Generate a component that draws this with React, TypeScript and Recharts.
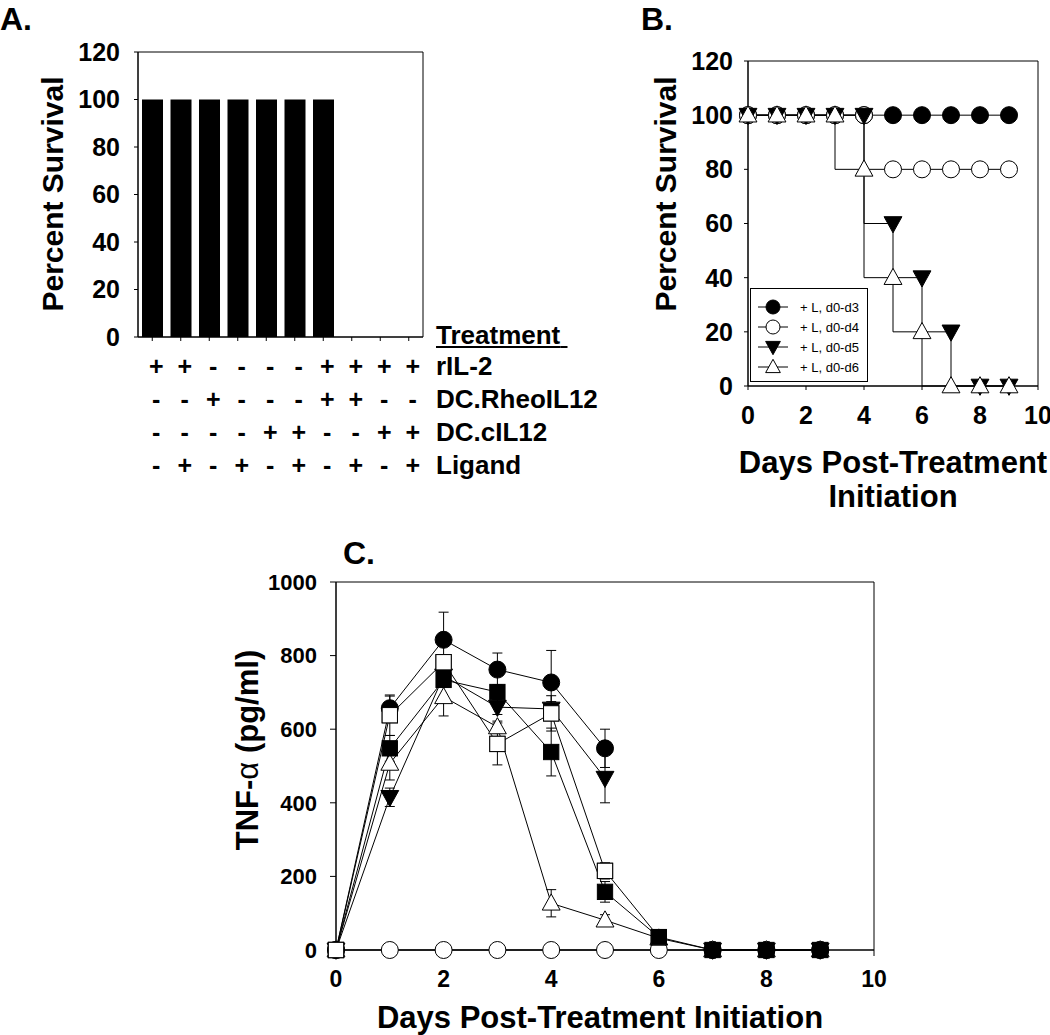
import { Bar, BarChart, ErrorBar, Legend, Line, LineChart, ReferenceArea, XAxis, YAxis } from "recharts"

const FONT = '"Liberation Sans", Arial, Helvetica, sans-serif'

// ---- panel A: survival per treatment group
const groupIds = ["g1", "g2", "g3", "g4", "g5", "g6", "g7", "g8", "g9", "g10"]
const survivalA = [100, 100, 100, 100, 100, 100, 100, 0, 0, 0]
const percentTicks = [0, 20, 40, 60, 80, 100, 120]
const treatmentNames = ["rIL-2", "DC.RheoIL12", "DC.cIL12", "Ligand"]
const rIL2 = ["+", "+", "-", "-", "-", "-", "+", "+", "+", "+"]
const rheoIL12 = ["-", "-", "+", "-", "-", "-", "+", "+", "-", "-"]
const cIL12 = ["-", "-", "-", "-", "+", "+", "-", "-", "+", "+"]
const ligand = ["-", "+", "-", "+", "-", "+", "-", "+", "-", "+"]

// ---- panel B: survival over time
const survivalDays = [0, 1, 2, 3, 4, 5, 6, 7, 8, 9]
const dayTicks = [0, 2, 4, 6, 8, 10]
const legendNames = ["+ L, d0-d3", "+ L, d0-d4", "+ L, d0-d5", "+ L, d0-d6"]
const survD0D3 = [100, 100, 100, 100, 100, 100, 100, 100, 100, 100]
const survD0D4 = [100, 100, 100, 100, 100, 80, 80, 80, 80, 80]
const survD0D5 = [100, 100, 100, 100, 100, 60, 40, 20, 0, 0]
const survD0D6 = [100, 100, 100, 100, 80, 40, 20, 0, 0, 0]

// ---- panel C: TNF-alpha (pg/ml)
const tnfDays = [0, 1, 2, 3, 4, 5, 6, 7, 8, 9]
const tnfTicks = [0, 200, 400, 600, 800, 1000]
const fCircle = [0, 657, 843, 762, 727, 548, null, 0, 0, 0]
const fCircleErr = [0, 33, 75, 45, 87, 52, 0, 0, 0, 0]
const oCircle = [0, 0, 0, 0, 0, 0, 0, 0, 0, 0]
const fTriangle = [0, 415, 745, 660, 655, 467, null, 0, 0, 0]
const fTriangleErr = [0, 25, 20, 20, 20, 67, 0, 0, 0, 0]
const oTriangle = [0, 507, 688, 606, 127, 81, 32, 0, 0, 0]
const oTriangleErr = [0, 45, 52, 16, 37, 15, 8, 0, 0, 0]
const fSquare = [0, 548, 734, 701, 538, 158, 35, 0, 0, 0]
const fSquareErr = [0, 35, 20, 20, 65, 28, 8, 0, 0, 0]
const oSquare = [0, 638, 782, 560, 643, 215, 35, null, null, null]
const oSquareErr = [0, 55, 15, 57, 48, 22, 0, 0, 0, 0]

const treatmentTable = [rIL2, rheoIL12, cIL12, ligand]
const barData = groupIds.map((g, i) => ({ group: g, survival: survivalA[i] }))
const survSeries = [survD0D3, survD0D4, survD0D5, survD0D6].map((vals) =>
  survivalDays.map((d, i) => ({ day: d, pct: vals[i] }))
)
const tnfData = tnfDays.map((d, i) => ({
  day: d,
  fc: fCircle[i], fcErr: fCircleErr[i],
  oc: oCircle[i],
  ft: fTriangle[i], ftErr: fTriangleErr[i],
  ot: oTriangle[i], otErr: oTriangleErr[i],
  fs: fSquare[i], fsErr: fSquareErr[i],
  os: oSquare[i], osErr: oSquareErr[i],
}))

type Kind = "circle" | "openCircle" | "triDown" | "openTriUp" | "square" | "openSquare"

function marker(kind: Kind, cx: number, cy: number, s: number) {
  const fill = kind === "openCircle" || kind === "openTriUp" || kind === "openSquare" ? "#fff" : "#000"
  if (kind === "circle" || kind === "openCircle") {
    return <circle cx={cx} cy={cy} r={s} fill={fill} stroke="#000" strokeWidth={1} />
  }
  if (kind === "square" || kind === "openSquare") {
    const h = s * 0.9
    return <rect x={cx - h} y={cy - h} width={2 * h} height={2 * h} fill={fill} stroke="#000" strokeWidth={1} />
  }
  if (kind === "triDown") {
    const d = `M${cx - s * 1.05},${cy - s * 0.8} L${cx + s * 1.05},${cy - s * 0.8} L${cx},${cy + s * 1.1} Z`
    return <path d={d} fill={fill} stroke="#000" strokeWidth={1} />
  }
  const d = `M${cx - s * 1.05},${cy + s * 0.8} L${cx + s * 1.05},${cy + s * 0.8} L${cx},${cy - s * 1.1} Z`
  return <path d={d} fill={fill} stroke="#000" strokeWidth={1} />
}

const dotFor = (kind: Kind, s: number) => (p: any) => {
  const key = `${kind}-${p.index}`
  if (p.cx == null || p.cy == null || p.value == null || isNaN(p.cy)) return <g key={key} />
  return <g key={key}>{marker(kind, p.cx, p.cy, s)}</g>
}

const bold = (size: number) => ({ fontSize: size, fontWeight: "bold", fill: "#000", fontFamily: FONT })

function TreatmentTick(props: any) {
  const { x, y } = props
  const i = props.payload?.index ?? props.index
  return (
    <g>
      {treatmentTable.map((row, k) => (
        <text
          key={k}
          x={x + 4}
          y={y + 25 + k * 33}
          textAnchor="middle"
          dominantBaseline="central"
          fontSize={25}
          fontWeight="bold"
          fontFamily={FONT}
          fill="#000"
        >
          {row[i]}
        </text>
      ))}
    </g>
  )
}

const legendKinds: Kind[] = ["circle", "openCircle", "triDown", "openTriUp"]

function SurvivalLegend(props: any) {
  const items = props.payload || []
  return (
    <div
      style={{
        width: 116,
        height: 84,
        border: "1px solid #000",
        background: "#fff",
        paddingTop: 8,
        boxSizing: "content-box",
      }}
    >
      {items.map((entry: any, i: number) => {
        const k = legendNames.indexOf(entry.value)
        const kind = legendKinds[k >= 0 ? k : i]
        return (
          <div key={i} style={{ display: "flex", alignItems: "center", height: 20 }}>
            <svg width={44} height={20} style={{ display: "block" }}>
              <line x1={7} y1={10} x2={37} y2={10} stroke="#000" strokeWidth={1} />
              {marker(kind, 22, 10, 7)}
            </svg>
            <span style={{ fontFamily: FONT, fontSize: 13, marginLeft: 5, color: "#000" }}>{entry.value}</span>
          </div>
        )
      })}
    </div>
  )
}

function Label({ x, y, size, children, rotate }: any) {
  return (
    <div
      style={{
        position: "absolute",
        left: x,
        top: y,
        transform: `translate(-50%, -50%)${rotate ? " rotate(-90deg)" : ""}`,
        whiteSpace: "nowrap",
        fontFamily: FONT,
        fontWeight: "bold",
        fontSize: size,
        lineHeight: 1,
        color: "#000",
      }}
    >
      {children}
    </div>
  )
}

function RowLabel({ y, children, underline }: any) {
  return (
    <div
      style={{
        position: "absolute",
        left: 436,
        top: y,
        transform: "translateY(-50%)",
        whiteSpace: "nowrap",
        fontFamily: FONT,
        fontWeight: "bold",
        fontSize: 26,
        lineHeight: 1,
        textDecoration: underline ? "underline" : "none",
        color: "#000",
      }}
    >
      {children}
    </div>
  )
}

const frame = { fill: "none", fillOpacity: 0, stroke: "#000", strokeWidth: 1, ifOverflow: "visible" as const }

export default function App() {
  return (
    <div style={{ position: "absolute", left: 0, top: 0, width: 1050, height: 1035, background: "#fff", overflow: "hidden" }}>
      {/* panel A */}
      <div style={{ position: "absolute", left: 0, top: 0 }}>
        <BarChart width={440} height={480} data={barData} margin={{ top: 52, right: 17, bottom: 3, left: 0 }} barCategoryGap="25%">
          <XAxis
            dataKey="group"
            height={140}
            interval={0}
            tickSize={4}
            tickMargin={0}
            stroke="#000"
            tick={(p: any) => <TreatmentTick {...p} />}
          />
          <YAxis
            domain={[0, 120]}
            ticks={percentTicks}
            interval={0}
            width={138}
            tickSize={4}
            tickMargin={14}
            stroke="#000"
            tick={bold(25)}
          />
          <ReferenceArea x1={groupIds[0]} x2={groupIds[groupIds.length - 1]} y1={0} y2={120} {...frame} />
          <Bar dataKey="survival" fill="#000" barSize={21} isAnimationActive={false} />
        </BarChart>
      </div>

      {/* panel B */}
      <div style={{ position: "absolute", left: 600, top: 0 }}>
        <LineChart width={450} height={440} margin={{ top: 61, right: 12, bottom: 14, left: 0 }}>
          <XAxis
            dataKey="day"
            type="number"
            domain={[0, 10]}
            ticks={dayTicks}
            interval={0}
            height={40}
            tickSize={4}
            tickMargin={16}
            stroke="#000"
            tick={bold(25)}
          />
          <YAxis
            domain={[0, 120]}
            ticks={percentTicks}
            interval={0}
            width={148}
            tickSize={4}
            tickMargin={11}
            stroke="#000"
            tick={bold(25)}
          />
          <ReferenceArea x1={0} x2={10} y1={0} y2={120} {...frame} />
          {survSeries.map((data, i) => (
            <Line
              key={legendNames[i]}
              name={legendNames[i]}
              data={data}
              dataKey="pct"
              type="stepBefore"
              stroke="#000"
              strokeWidth={1}
              dot={dotFor(legendKinds[i], 8.5)}
              activeDot={false}
              isAnimationActive={false}
            />
          ))}
          <Legend
            layout="vertical"
            align="center"
            verticalAlign="middle"
            content={(p: any) => <SurvivalLegend {...p} />}
            wrapperStyle={{ left: 150, top: 288, width: 118, height: 94 }}
          />
        </LineChart>
      </div>

      {/* panel C */}
      <div style={{ position: "absolute", left: 200, top: 560 }}>
        <LineChart width={700} height={475} data={tnfData} margin={{ top: 22, right: 26, bottom: 45, left: 0 }}>
          <XAxis
            dataKey="day"
            type="number"
            domain={[0, 10]}
            ticks={dayTicks}
            interval={0}
            height={40}
            tickSize={6}
            tickMargin={15}
            stroke="#000"
            tick={bold(23)}
          />
          <YAxis
            domain={[0, 1000]}
            ticks={tnfTicks}
            interval={0}
            width={136}
            tickSize={6}
            tickMargin={13}
            stroke="#000"
            tick={bold(22)}
          />
          <ReferenceArea x1={0} x2={10} y1={0} y2={1000} {...frame} />
          <Line dataKey="oc" stroke="#000" strokeWidth={1} dot={dotFor("openCircle", 8.5)} activeDot={false} isAnimationActive={false} />
          <Line dataKey="os" stroke="#000" strokeWidth={1} dot={dotFor("openSquare", 8.5)} activeDot={false} isAnimationActive={false}>
            <ErrorBar dataKey="osErr" direction="y" width={5} stroke="#000" strokeWidth={1} />
          </Line>
          <Line dataKey="fc" stroke="#000" strokeWidth={1} dot={dotFor("circle", 8.5)} activeDot={false} isAnimationActive={false}>
            <ErrorBar dataKey="fcErr" direction="y" width={5} stroke="#000" strokeWidth={1} />
          </Line>
          <Line dataKey="ot" stroke="#000" strokeWidth={1} dot={dotFor("openTriUp", 8.5)} activeDot={false} isAnimationActive={false}>
            <ErrorBar dataKey="otErr" direction="y" width={5} stroke="#000" strokeWidth={1} />
          </Line>
          <Line dataKey="ft" stroke="#000" strokeWidth={1} dot={dotFor("triDown", 8.5)} activeDot={false} isAnimationActive={false}>
            <ErrorBar dataKey="ftErr" direction="y" width={5} stroke="#000" strokeWidth={1} />
          </Line>
          <Line dataKey="fs" stroke="#000" strokeWidth={1} dot={dotFor("square", 8.5)} activeDot={false} isAnimationActive={false}>
            <ErrorBar dataKey="fsErr" direction="y" width={5} stroke="#000" strokeWidth={1} />
          </Line>
          {/* open square redrawn on top only where it is visible in the source (day 0-5) */}
          <Line
            dataKey={(row: any) => (row.day <= 5 ? row.os : null)}
            stroke="none"
            dot={dotFor("openSquare", 8.5)}
            activeDot={false}
            isAnimationActive={false}
          />
        </LineChart>
      </div>

      {/* panel letters and axis titles */}
      <div style={{ position: "absolute", left: 0, top: 3, fontFamily: FONT, fontWeight: "bold", fontSize: 32, lineHeight: 1 }}>A.</div>
      <div style={{ position: "absolute", left: 641, top: 3, fontFamily: FONT, fontWeight: "bold", fontSize: 32, lineHeight: 1 }}>B.</div>
      <div style={{ position: "absolute", left: 343, top: 537, fontFamily: FONT, fontWeight: "bold", fontSize: 32, lineHeight: 1 }}>C.</div>

      <Label x={53} y={194} size={30} rotate>Percent Survival</Label>
      <Label x={666} y={194} size={30} rotate>Percent Survival</Label>
      <Label x={893} y={462} size={31}>Days Post-Treatment</Label>
      <Label x={893} y={496} size={31}>Initiation</Label>
      <Label x={247} y={750} size={31} rotate>
        TNF-<span style={{ fontWeight: "normal" }}>α</span> (pg/ml)
      </Label>
      <Label x={600} y={1017} size={31}>Days Post-Treatment Initiation</Label>

      <RowLabel y={335} underline>Treatment{"\u00a0"}</RowLabel>
      {treatmentNames.map((name, k) => (
        <RowLabel key={name} y={366 + k * 33}>{name}</RowLabel>
      ))}
    </div>
  )
}
